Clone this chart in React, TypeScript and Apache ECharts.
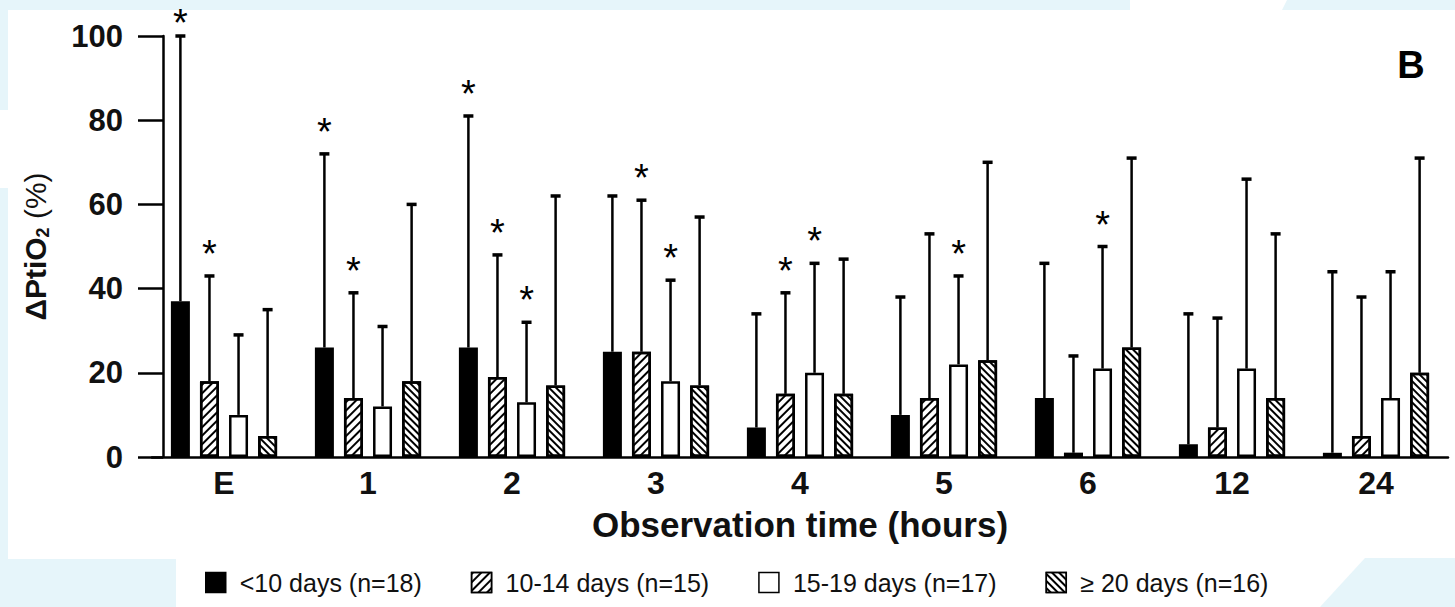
import React, { useEffect, useRef } from 'react';
import * as echarts from 'echarts';

const categories = ['E', '1', '2', '3', '4', '5', '6', '12', '24'];
const seriesNames = ['<10 days (n=18)', '10-14 days (n=15)', '15-19 days (n=17)', '≥ 20 days (n=16)'];

const meanLt10 = [37, 26, 26, 25, 7, 10, 14, 3, 1];
const mean10to14 = [18, 14, 19, 25, 15, 14, 1, 7, 5];
const mean15to19 = [10, 12, 13, 18, 20, 22, 21, 21, 14];
const meanGe20 = [5, 18, 17, 17, 15, 23, 26, 14, 20];

const upperLt10 = [100, 72, 81, 62, 34, 38, 46, 34, 44];
const upper10to14 = [43, 39, 48, 61, 39, 53, 24, 33, 38];
const upper15to19 = [29, 31, 32, 42, 46, 43, 50, 66, 44];
const upperGe20 = [35, 60, 62, 57, 47, 70, 71, 53, 71];

const starLt10 = [1, 1, 1, 0, 0, 0, 0, 0, 0];
const star10to14 = [1, 1, 1, 1, 1, 0, 0, 0, 0];
const star15to19 = [0, 0, 1, 1, 1, 1, 1, 0, 0];
const starGe20 = [0, 0, 0, 0, 0, 0, 0, 0, 0];

const yMin = 0;
const yMax = 100;
const yInterval = 20;

const FONT = '"Liberation Sans", Arial, Helvetica, sans-serif';
const BG = '#e6f5fa';
const BAR_W = 19;
const BAR_GAP = 0.53;
const PITCH = BAR_W * (1 + BAR_GAP);

export default function App() {
  const ref = useRef<HTMLDivElement>(null);

  useEffect(() => {
    if (!ref.current) return;
    const chart = echarts.init(ref.current, null, { renderer: 'svg' });

    const means = [meanLt10, mean10to14, mean15to19, meanGe20];
    const uppers = [upperLt10, upper10to14, upper15to19, upperGe20];
    const stars = [starLt10, star10to14, star15to19, starGe20];

    const errData: number[][] = [];
    for (let k = 0; k < 4; k++) {
      for (let i = 0; i < categories.length; i++) {
        errData.push([i, k, means[k][i], uppers[k][i], stars[k][i]]);
      }
    }

    const border = { borderColor: '#000', borderWidth: 2.5 };
    const itemStyles: any[] = [
      { color: '#000', ...border },
      {
        color: '#fff', ...border,
        decal: {
          symbol: 'rect', symbolSize: 1, color: '#000', backgroundColor: '#fff',
          dashArrayX: [1, 0], dashArrayY: [2, 4], rotation: -Math.PI / 4,
        },
      },
      { color: '#fff', ...border },
      {
        color: '#fff', ...border,
        decal: {
          symbol: 'rect', symbolSize: 1, color: '#000', backgroundColor: '#fff',
          dashArrayX: [1, 0], dashArrayY: [2, 3], rotation: Math.PI / 4,
        },
      },
    ];

    const barSeries = means.map((m, k) => ({
      name: seriesNames[k],
      type: 'bar',
      data: m,
      barWidth: BAR_W,
      barGap: Math.round(BAR_GAP * 100) + '%',
      itemStyle: itemStyles[k],
      silent: true,
      z: 3,
    }));

    const option: any = {
      animation: false,
      backgroundColor: '#fff',
      graphic: [
        { type: 'rect', z: -5, shape: { x: 0, y: 0, width: 1130, height: 10 }, style: { fill: BG } },
        { type: 'polygon', z: -5, shape: { points: [[1287, 0], [1455, 0], [1455, 10], [1282, 10]] }, style: { fill: BG } },
        { type: 'rect', z: -5, shape: { x: 0, y: 10, width: 8, height: 100 }, style: { fill: BG } },
        { type: 'rect', z: -5, shape: { x: 0, y: 188, width: 8, height: 372 }, style: { fill: BG } },
        { type: 'rect', z: -5, shape: { x: 0, y: 559, width: 176, height: 48 }, style: { fill: BG } },
        { type: 'polygon', z: -5, shape: { points: [[1365, 558], [1455, 558], [1455, 607], [1320, 607]] }, style: { fill: BG } },
        {
          type: 'text', x: 1411, y: 65,
          style: { text: 'B', font: `bold 38px ${FONT}`, fill: '#000', align: 'center', verticalAlign: 'middle' },
        },
      ],
      legend: {
        data: seriesNames,
        left: 200,
        top: 565,
        itemWidth: 20,
        itemHeight: 20,
        itemGap: 49,
        icon: 'rect',
        selectedMode: false,
        textStyle: { fontFamily: FONT, fontSize: 25, color: '#111', padding: [0, 0, 0, 9] },
        itemStyle: { borderWidth: 1.5 },
      },
      grid: { left: 152, top: 36, width: 1296, height: 421, containLabel: false },
      xAxis: {
        type: 'category',
        data: categories,
        axisLine: { show: true, lineStyle: { color: '#000', width: 2.5 } },
        axisTick: { show: false },
        axisLabel: { fontFamily: FONT, fontWeight: 'bold', fontSize: 32, color: '#111', margin: 10 },
        name: 'Observation time (hours)',
        nameLocation: 'middle',
        nameGap: 50,
        nameTextStyle: { fontFamily: FONT, fontWeight: 'bold', fontSize: 35, color: '#111' },
      },
      yAxis: {
        type: 'value',
        min: yMin,
        max: yMax,
        interval: yInterval,
        offset: -11,
        splitLine: { show: false },
        axisLine: { show: true, lineStyle: { color: '#000', width: 2.5 } },
        axisTick: { show: true, length: 25, lineStyle: { color: '#000', width: 2.5 } },
        axisLabel: { fontFamily: FONT, fontWeight: 'bold', fontSize: 31, color: '#111', margin: 40 },
        name: '{b|ΔPtiO}{s|2}{n| (%)}',
        nameLocation: 'middle',
        nameGap: 111,
        nameTextStyle: {
          fontFamily: FONT,
          color: '#111',
          rich: {
            b: { fontFamily: FONT, fontWeight: 'bold', fontSize: 30, lineHeight: 34, color: '#111' },
            s: { fontFamily: FONT, fontWeight: 'bold', fontSize: 18, lineHeight: 14, verticalAlign: 'bottom', color: '#111' },
            n: { fontFamily: FONT, fontSize: 30, lineHeight: 34, color: '#111' },
          },
        },
      },
      series: [
        ...barSeries,
        {
          type: 'custom',
          name: 'err',
          silent: true,
          z: 2,
          data: errData,
          encode: { x: 0, y: 3 },
          renderItem: (params: any, api: any) => {
            const ci = api.value(0);
            const k = api.value(1);
            const mean = api.value(2);
            const up = api.value(3);
            const star = api.value(4);
            const b = api.coord([ci, mean]);
            const t = api.coord([ci, up]);
            const x = b[0] + (k - 1.5) * PITCH;
            const children: any[] = [
              { type: 'line', shape: { x1: x, y1: b[1], x2: x, y2: t[1] }, style: { stroke: '#000', lineWidth: 2.5 } },
              { type: 'line', shape: { x1: x - 5, y1: t[1], x2: x + 5, y2: t[1] }, style: { stroke: '#000', lineWidth: 3.5 } },
            ];
            if (star) {
              children.push({
                type: 'text',
                style: {
                  text: '*', x, y: Math.max(t[1] - 22, 23),
                  font: `38px ${FONT}`, fill: '#000', align: 'center', verticalAlign: 'middle',
                },
              });
            }
            return { type: 'group', children };
          },
        },
      ],
    };

    chart.setOption(option);
    return () => chart.dispose();
  }, []);

  return (
    <div
      ref={ref}
      style={{ position: 'fixed', left: 0, top: 0, width: 1455, height: 607 }}
    />
  );
}
